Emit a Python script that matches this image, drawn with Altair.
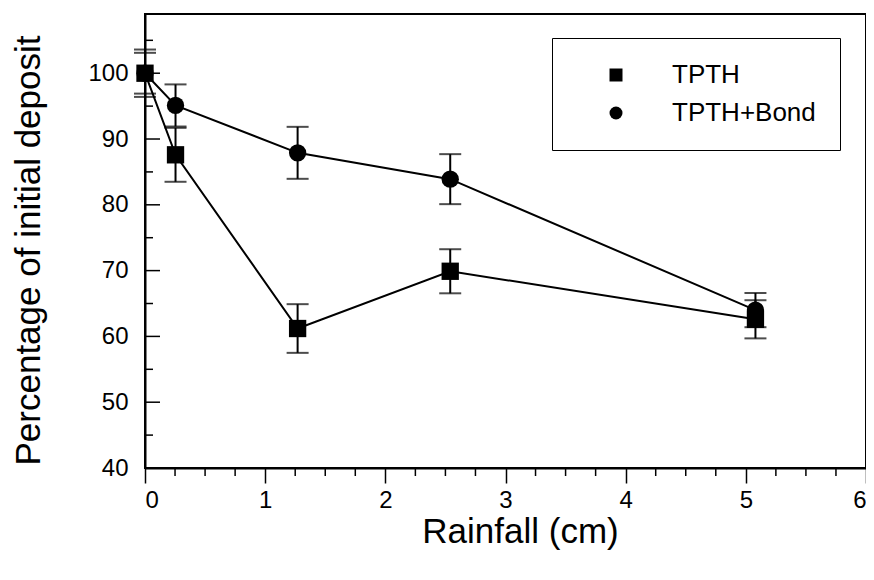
import altair as alt
import pandas as pd

rain = [0, 0.254, 1.27, 2.54, 5.08]
tpth = [100, 87.6, 61.2, 69.9, 62.6]
tpth_err = [3.6, 4.1, 3.7, 3.35, 2.9]
bond = [100, 95.1, 87.9, 83.9, 64.0]
bond_err = [3.1, 3.2, 3.95, 3.8, 2.6]
series = ["TPTH", "TPTH+Bond"]

x_major = [0, 1, 2, 3, 4, 5, 6]
x_minor = [i * 0.25 for i in range(25) if i % 4 != 0]
y_major = [40, 50, 60, 70, 80, 90, 100]
y_minor = [45, 55, 65, 75, 85, 95, 105]

rows = []
for s, vals, errs in [(series[1], bond, bond_err), (series[0], tpth, tpth_err)]:
    for xv, v, e in zip(rain, vals, errs):
        rows.append({"rain": xv, "pct": v, "lo": v - e, "hi": v + e, "series": s})
df = pd.DataFrame(rows)

W, H = 721, 454
FONT = "Liberation Sans"

xscale = alt.Scale(domain=[0, 6], nice=False)
yscale = alt.Scale(domain=[40, 109], nice=False, zero=False)

xaxis = alt.Axis(values=x_major, format="d", tickSize=15, tickColor="black", tickWidth=1.5,
                 labelFontSize=24, labelPadding=5, labelColor="black", labelFont=FONT,
                 domainColor="black", domainWidth=2, grid=False,
                 title="Rainfall (cm)", titleFontSize=35, titleFont=FONT, titleFontWeight="normal",
                 titleColor="black", titleX=375, titleY=63, titleAlign="center", titleBaseline="middle")
yaxis = alt.Axis(values=y_major, ticks=False, tickSize=0,
                 labelFontSize=24, labelPadding=17, labelColor="black", labelFont=FONT,
                 domainColor="black", domainWidth=2, grid=False,
                 title="Percentage of initial deposit", titleFontSize=35, titleFont=FONT,
                 titleFontWeight="normal", titleColor="black", titleAngle=270,
                 titleX=-117, titleY=236, titleAlign="center", titleBaseline="middle")

base = alt.Chart(df)

X = alt.X("rain:Q", scale=xscale, axis=xaxis, title="Rainfall (cm)")
Y = alt.Y("pct:Q", scale=yscale, axis=yaxis, title="Percentage of initial deposit")

lines = base.mark_line(color="black", strokeWidth=2).encode(x=X, y=Y, detail="series:N")

errs = base.mark_errorbar(ticks=True, size=22, thickness=2, color="black").encode(
    x=X,
    y=alt.Y("lo:Q", scale=yscale, axis=yaxis, title="Percentage of initial deposit"),
    y2="hi:Q",
)

points = base.mark_point(filled=True, opacity=1, color="black", size=300).encode(
    x=X,
    y=Y,
    shape=alt.Shape("series:N",
                    scale=alt.Scale(domain=series, range=["square", "circle"]),
                    legend=alt.Legend(title=None, orient="none", legendX=407, legendY=24,
                                      padding=24, symbolOffset=27, labelOffset=43,
                                      rowPadding=12, symbolSize=169, symbolFillColor="black",
                                      symbolStrokeWidth=0, labelFontSize=26, labelFont=FONT,
                                      labelColor="black", strokeColor="black",
                                      fillColor="white")),
)

xminor = alt.Chart(pd.DataFrame({"v": x_minor})).mark_rule(color="black", strokeWidth=1.5).encode(
    x=alt.X("v:Q", scale=xscale, axis=xaxis, title="Rainfall (cm)"),
    y=alt.value(H), y2=alt.value(H + 8))
ymajor = alt.Chart(pd.DataFrame({"v": y_major})).mark_rule(color="black", strokeWidth=1.5).encode(
    y=alt.Y("v:Q", scale=yscale, axis=yaxis, title="Percentage of initial deposit"),
    x=alt.value(0), x2=alt.value(15))
yminor = alt.Chart(pd.DataFrame({"v": y_minor})).mark_rule(color="black", strokeWidth=1.5).encode(
    y=alt.Y("v:Q", scale=yscale, axis=yaxis, title="Percentage of initial deposit"),
    x=alt.value(0), x2=alt.value(8))

chart = alt.layer(lines, errs, points, xminor, ymajor, yminor).properties(
    width=W, height=H,
    background="white",
    autosize=alt.AutoSizeParams(type="none"),
    padding={"left": 137, "top": 6, "right": 0, "bottom": 104},
).configure_view(stroke="black", strokeWidth=2)

chart.save("out.html", embed_options={"renderer": "svg", "actions": False})
